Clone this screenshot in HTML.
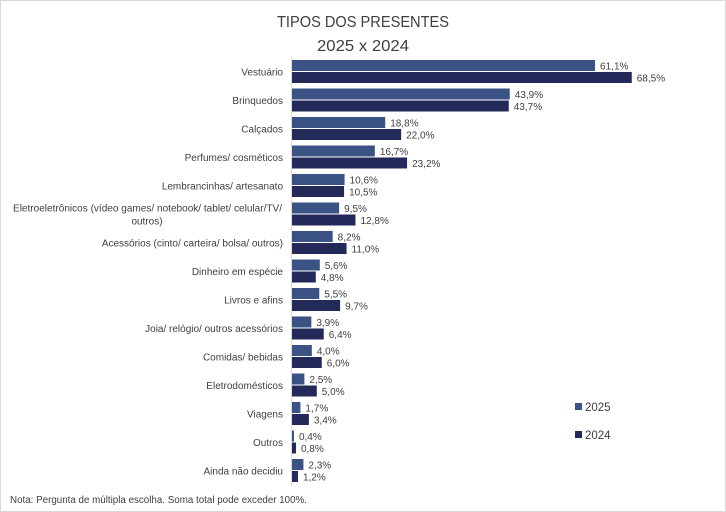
<!DOCTYPE html>
<html><head><meta charset="utf-8"><style>
html,body{margin:0;padding:0;background:#fff;}
svg{display:block;font-family:"Liberation Sans",sans-serif;}
</style></head><body>
<svg width="726" height="512" viewBox="0 0 726 512">
<rect x="0.5" y="0.5" width="725" height="511" fill="#fff" stroke="#d9d9d9"/>
<text x="277" y="27" font-size="16" fill="#404040" textLength="172" lengthAdjust="spacingAndGlyphs">TIPOS DOS PRESENTES</text>
<text x="363" y="51" text-anchor="middle" font-size="16" fill="#404040" textLength="92" lengthAdjust="spacingAndGlyphs">2025 x 2024</text>
<line x1="291.5" y1="57" x2="291.5" y2="485" stroke="#d9d9d9"/>
<g id="bars" font-size="10" fill="#404040"></g>
<rect x="575" y="403" width="7" height="7" fill="#3b5284"/>
<text x="585" y="411" font-size="11.5" fill="#404040">2025</text>
<rect x="575" y="431" width="7" height="7" fill="#232a5a"/>
<text x="585" y="439" font-size="11.5" fill="#404040">2024</text>
<text x="10" y="503" font-size="10" fill="#404040" textLength="297" lengthAdjust="spacingAndGlyphs">Nota: Pergunta de múltipla escolha. Soma total pode exceder 100%.</text>
</svg>
<script>
var d=[["Vestuário",61.1,68.5],["Brinquedos",43.9,43.7],["Calçados",18.8,22.0],["Perfumes/ cosméticos",16.7,23.2],["Lembrancinhas/ artesanato",10.6,10.5],["",9.5,12.8],["Acessórios (cinto/ carteira/ bolsa/ outros)",8.2,11.0],["Dinheiro em espécie",5.6,4.8],["Livros e afins",5.5,9.7],["Joia/ relógio/ outros acessórios",3.9,6.4],["Comidas/ bebidas",4.0,6.0],["Eletrodomésticos",2.5,5.0],["Viagens",1.7,3.4],["Outros",0.4,0.8],["Ainda não decidiu",2.3,1.2]];
var g=document.getElementById('bars'),s='',k=4.96,x0=292;
function f(v){return v.toFixed(1).replace('.',',')+'%';}
d.forEach(function(r,i){var y=60+i*28.5;
s+='<rect x="'+x0+'" y="'+y+'" width="'+(r[1]*k)+'" height="11" fill="#3b5284"/>';
s+='<rect x="'+x0+'" y="'+(y+12)+'" width="'+(r[2]*k)+'" height="11" fill="#232a5a"/>';
s+='<text x="'+(x0+r[1]*k+5)+'" y="'+(y+9.5)+'">'+f(r[1])+'</text>';
s+='<text x="'+(x0+r[2]*k+5)+'" y="'+(y+21.5)+'">'+f(r[2])+'</text>';
if(r[0])s+='<text x="283" y="'+(y+15.5)+'" text-anchor="end">'+r[0]+'</text>';
});
var y5=60+5*28.5;
s+='<text x="13" y="'+(y5+9)+'" textLength="269" lengthAdjust="spacingAndGlyphs">Eletroeletrônicos (vídeo games/ notebook/ tablet/ celular/TV/</text>';
s+='<text x="147" y="'+(y5+22)+'" text-anchor="middle">outros)</text>';
g.innerHTML=s;
</script>
</body></html>
